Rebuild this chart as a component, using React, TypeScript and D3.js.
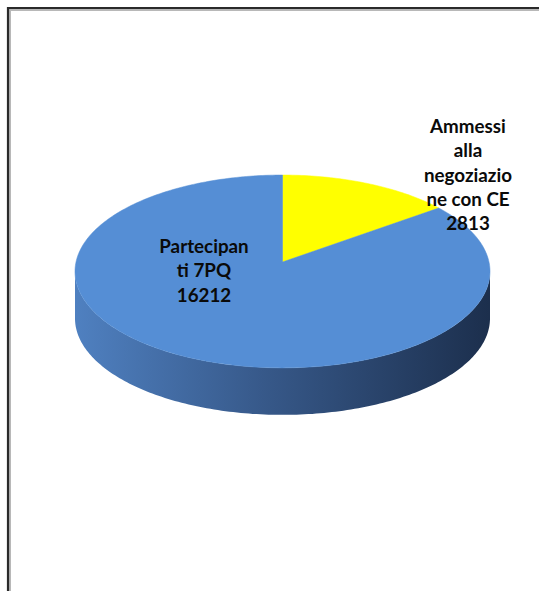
import React from 'react';
import * as d3 from 'd3';

// ---- data ----
const categories = ["Ammessi alla negoziazione con CE", "Partecipanti 7PQ"];
const values = [2813, 16212];
const labelLines = [
  ["Ammessi", "alla", "negoziazio", "ne con CE"],
  ["Partecipan", "ti 7PQ"],
];
const colors = ["#FFFF00", "#558ED5"];

// ---- layout ----
const W = 539, H = 591;
const cx = 282.5, cy = 262, rx = 206.5, ry = 95.5, persp = 0.098, depth = 47;
const labelAnchors = [
  { x: 468, y: 133 },
  { x: 204, y: 253 },
];
const lineH = 24.3;

function proj(theta: number, dy = 0): [number, number] {
  const d = 1 + persp * Math.cos(theta);
  return [cx + (rx * Math.sin(theta)) / d, cy - (ry * Math.cos(theta)) / d + dy];
}

function arcPoints(a0: number, a1: number, dy = 0) {
  const n = Math.max(8, Math.ceil(((a1 - a0) / (2 * Math.PI)) * 360));
  const pts: [number, number][] = [];
  for (let i = 0; i <= n; i++) pts.push(proj(a0 + ((a1 - a0) * i) / n, dy));
  return pts;
}

export default function App() {
  const pie = d3.pie<number>().sort(null).value((d) => d);
  const arcs = pie(values);
  const line = d3.line();

  const t0 = Math.acos(-persp);
  const t1 = 2 * Math.PI - t0;
  const top = arcPoints(t0, t1);
  const bottom = arcPoints(t0, t1, depth).reverse();
  const sidePath = line([...top, ...bottom]) + 'Z';

  return (
    <svg width={W} height={H} style={{ position: 'absolute', left: 0, top: 0, background: '#fff' }}
      fontFamily="Lato, 'Open Sans', sans-serif">
      <defs>
        <linearGradient id="sideGrad" x1={cx - rx} x2={cx + rx} y1={0} y2={0} gradientUnits="userSpaceOnUse">
          <stop offset="0" stopColor="#4f80c0" />
          <stop offset="0.45" stopColor="#37598a" />
          <stop offset="1" stopColor="#1c2f4d" />
        </linearGradient>
      </defs>
      <rect x={0} y={0} width={W} height={H} fill="#fff" />
      {/* frame */}
      <path d={`M10,${H + 5} L10,10 L${W + 5},10`} fill="none" stroke="#b8b8b8" strokeWidth={2} />
      <path d={`M8,${H + 5} L8,8 L${W + 5},8`} fill="none" stroke="#2a2a2a" strokeWidth={2.2} />

      {/* side */}
      <path d={sidePath} fill="url(#sideGrad)" />
      {/* top faces */}
      {arcs.map((a, i) => {
        const pts = arcPoints(a.startAngle, a.endAngle);
        const d = line([[cx, cy], ...pts]) + 'Z';
        return <path key={categories[i]} d={d} fill={colors[i]} stroke={colors[i]} strokeWidth={0.5} />;
      })}

      {/* labels */}
      {arcs.map((a, i) => {
        const lines = [...labelLines[i], String(values[i])];
        return (
          <text key={'l' + i} textAnchor="middle" fontWeight="bold" fontSize={18.8} fill="#0a0a0a">
            {lines.map((s, j) => (
              <tspan key={j} x={labelAnchors[i].x} y={labelAnchors[i].y + j * lineH}>{s}</tspan>
            ))}
          </text>
        );
      })}
    </svg>
  );
}
